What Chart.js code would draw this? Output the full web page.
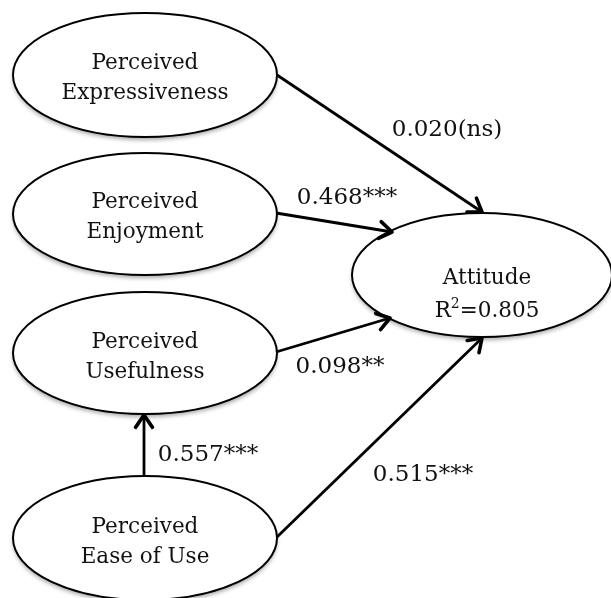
<!DOCTYPE html>
<html>
<head>
<meta charset="utf-8">
<script src="https://cdn.jsdelivr.net/npm/chart.js@4.4.1/dist/chart.umd.min.js"></script>
<style>
html,body{margin:0;padding:0;background:#fff;}
#wrap{width:611px;height:598px;}
</style>
</head>
<body>
<div id="wrap"><canvas id="c" width="611" height="598"></canvas></div>
<script>
// ---- Data (diagram space: x 0..611, y 0..598 top-down) ----
const nodeNames = ["Perceived\nExpressiveness", "Perceived\nEnjoyment", "Perceived\nUsefulness", "Perceived\nEase of Use", "Attitude\nR^2=0.805"];
const nodeX = [145, 145, 145, 145, 482];
const nodeY = [75, 214, 353, 538, 275];
const nodeRX = [132, 132, 132, 132, 130];
const nodeRY = [62, 61, 61, 62, 62];
const nodeTextX = [145, 145, 145, 145, 487];
const nodeTextY = [78, 217, 357, 542, 295];

const edgeLabels = ["0.020(ns)", "0.468***", "0.098**", "0.515***", "0.557***"];
const edgeFromX = [277, 276, 276, 277, 144];
const edgeFromY = [75, 213, 352, 537, 477];
const edgeToX = [482, 392, 390, 482, 144];
const edgeToY = [212, 232, 318, 338, 415];
const edgeLabelX = [447, 347, 340, 423, 208];
const edgeLabelY = [130, 198, 367, 475, 455];

const FONT_NODE = '21.5px "DejaVu Serif"';
const FONT_SUP = '14px "DejaVu Serif"';
const FONT_EDGE = '23px "DejaVu Serif"';

const datasets = edgeLabels.map((lab, i) => ({
  label: lab,
  data: [{x: edgeFromX[i], y: edgeFromY[i]}, {x: edgeToX[i], y: edgeToY[i]}],
  showLine: true,
  borderColor: '#000',
  borderWidth: 2.8,
  pointRadius: 0,
  fill: false
}));

function drawRichLine(ctx, text, cx, cy) {
  // supports "^2" superscript marker
  const parts = [];
  const re = /\^(\S)/g;
  let last = 0, m;
  while ((m = re.exec(text)) !== null) {
    if (m.index > last) parts.push({t: text.slice(last, m.index), sup: false});
    parts.push({t: m[1], sup: true});
    last = m.index + m[0].length;
  }
  if (last < text.length) parts.push({t: text.slice(last), sup: false});
  let total = 0;
  parts.forEach(p => { ctx.font = p.sup ? FONT_SUP : FONT_NODE; p.w = ctx.measureText(p.t).width; total += p.w; });
  let x = cx - total / 2;
  ctx.textAlign = 'left';
  parts.forEach(p => {
    ctx.font = p.sup ? FONT_SUP : FONT_NODE;
    ctx.fillText(p.t, x, p.sup ? cy - 7 : cy);
    x += p.w;
  });
  ctx.textAlign = 'center';
}

const diagramPlugin = {
  id: 'diagram',
  beforeDatasetsDraw(chart) {
    const ctx = chart.ctx, xs = chart.scales.x, ys = chart.scales.y;
    for (let i = 0; i < nodeNames.length; i++) {
      const cx = xs.getPixelForValue(nodeX[i]);
      const cy = ys.getPixelForValue(nodeY[i]);
      const rx = Math.abs(xs.getPixelForValue(nodeX[i] + nodeRX[i]) - cx);
      const ry = Math.abs(ys.getPixelForValue(nodeY[i] + nodeRY[i]) - cy);
      ctx.save();
      ctx.shadowColor = 'rgba(0,0,0,0.35)';
      ctx.shadowBlur = 4;
      ctx.shadowOffsetY = 3;
      ctx.beginPath();
      ctx.ellipse(cx, cy, rx, ry, 0, 0, Math.PI * 2);
      ctx.fillStyle = '#fff';
      ctx.fill();
      ctx.restore();
      ctx.save();
      ctx.beginPath();
      ctx.ellipse(cx, cy, rx, ry, 0, 0, Math.PI * 2);
      ctx.lineWidth = 2;
      ctx.strokeStyle = '#000';
      ctx.stroke();
      ctx.restore();
    }
  },
  afterDatasetsDraw(chart) {
    const ctx = chart.ctx, xs = chart.scales.x, ys = chart.scales.y;
    // arrowheads
    chart.data.datasets.forEach((ds) => {
      const p0 = ds.data[0], p1 = ds.data[1];
      const x0 = xs.getPixelForValue(p0.x), y0 = ys.getPixelForValue(p0.y);
      const x1 = xs.getPixelForValue(p1.x), y1 = ys.getPixelForValue(p1.y);
      const a = Math.atan2(y1 - y0, x1 - x0);
      const L = 15, w = 0.6;
      ctx.save();
      ctx.strokeStyle = '#000';
      ctx.lineWidth = 3.6;
      ctx.lineCap = 'round';
      ctx.lineJoin = 'round';
      ctx.beginPath();
      ctx.moveTo(x1 - L * Math.cos(a - w), y1 - L * Math.sin(a - w));
      ctx.lineTo(x1, y1);
      ctx.lineTo(x1 - L * Math.cos(a + w), y1 - L * Math.sin(a + w));
      ctx.stroke();
      ctx.restore();
    });
    // node texts
    ctx.save();
    ctx.fillStyle = '#111';
    ctx.textAlign = 'center';
    ctx.textBaseline = 'middle';
    for (let i = 0; i < nodeNames.length; i++) {
      const lines = nodeNames[i].split('\n');
      const tx = xs.getPixelForValue(nodeTextX[i]);
      const ty = ys.getPixelForValue(nodeTextY[i]);
      const lh = i === 4 ? 33 : 30;
      lines.forEach((ln, k) => {
        drawRichLine(ctx, ln, tx, ty + (k - (lines.length - 1) / 2) * lh);
      });
    }
    // edge labels
    ctx.font = FONT_EDGE;
    for (let i = 0; i < edgeLabels.length; i++) {
      ctx.fillText(edgeLabels[i], xs.getPixelForValue(edgeLabelX[i]), ys.getPixelForValue(edgeLabelY[i]));
    }
    ctx.restore();
  }
};

new Chart(document.getElementById('c'), {
  type: 'scatter',
  data: { datasets },
  options: {
    responsive: false,
    animation: false,
    layout: { padding: 0 },
    plugins: { legend: { display: false }, tooltip: { enabled: false } },
    scales: {
      x: { type: 'linear', min: 0, max: 611, display: false },
      y: { type: 'linear', min: 0, max: 598, reverse: true, display: false }
    }
  },
  plugins: [diagramPlugin]
});
</script>
</body>
</html>
